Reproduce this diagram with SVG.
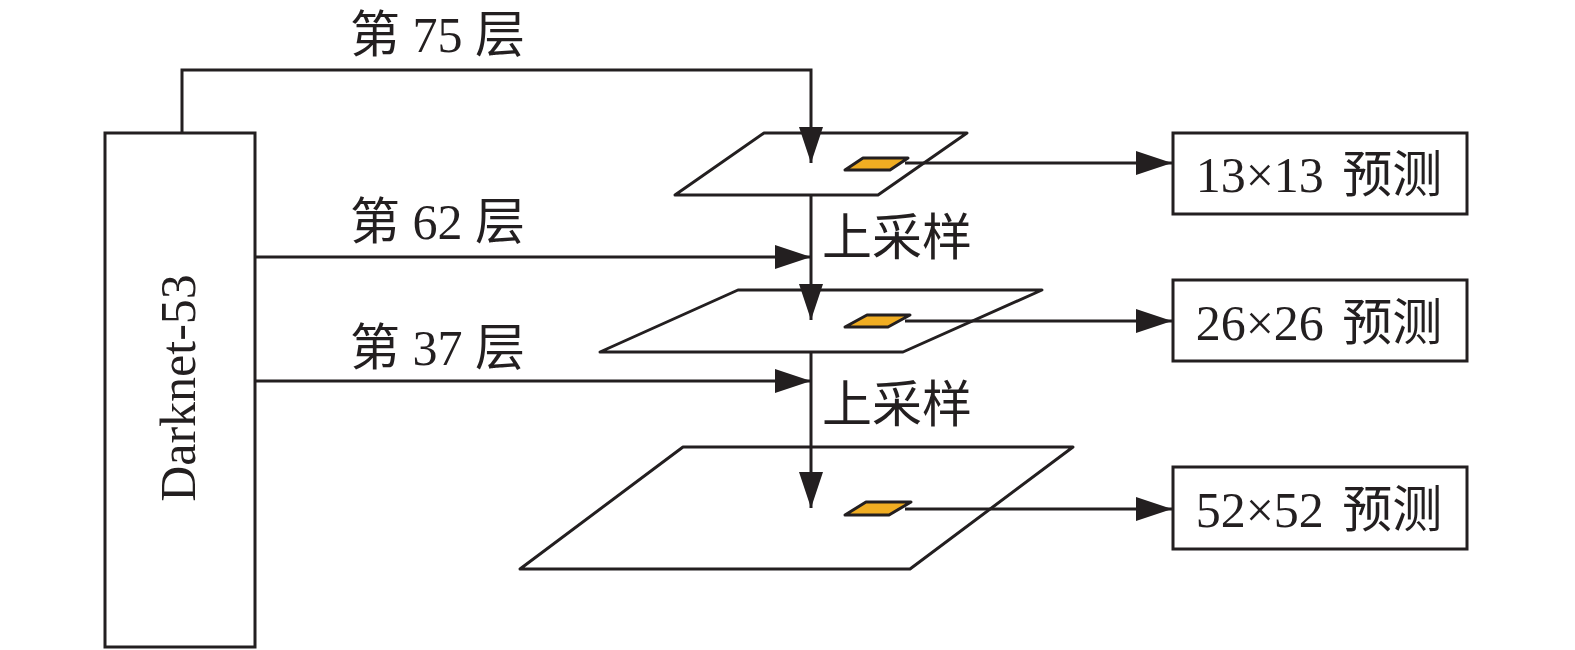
<svg xmlns="http://www.w3.org/2000/svg" width="1575" height="650" viewBox="0 0 1575 650">
<style>
.ln{fill:none;stroke:#231f20;stroke-width:3}
.pl{fill:#fff;stroke:#231f20;stroke-width:3;stroke-linejoin:round}
.or{fill:#f0ad22;stroke:#231f20;stroke-width:3;stroke-linejoin:round}
.bx{fill:#fff;stroke:#231f20;stroke-width:3}
text{font-family:"Liberation Serif","Noto Sans CJK SC",serif;font-size:50px;fill:#231f20}
.bt{word-spacing:6px}
</style>
<defs>
<marker id="ah" markerUnits="userSpaceOnUse" markerWidth="38" markerHeight="26" refX="36" refY="12" orient="auto">
<path d="M0,0 L36,12 L0,24 z" fill="#231f20"/>
</marker>
</defs>
<g id="darknet">
<rect class="bx" x="105" y="133" width="150" height="514"/>
<text transform="translate(195,388) rotate(-90)" text-anchor="middle" font-size="54">Darknet-53</text>
</g>
<g id="plane13">
<polygon class="pl" points="764,133 967,133 878,195 675,195"/>
<polygon class="or" points="863,158 908,158 890,170 845,170"/>
</g>
<g id="plane26">
<polygon class="pl" points="738,290 1042,290 903,352 600,352"/>
<polygon class="or" points="867,315 910,315 888,327 845,327"/>
</g>
<g id="plane52">
<polygon class="pl" points="683,447 1073,447 910,569 520,569"/>
<polygon class="or" points="866,502 911,502 889,515 845,515"/>
</g>
<g id="out13">
<rect class="bx" x="1173" y="133" width="294" height="81"/>
<text class="bt" x="1319" y="192" text-anchor="middle">13×13 预测</text>
</g>
<g id="out26">
<rect class="bx" x="1173" y="280" width="294" height="81"/>
<text class="bt" x="1319" y="340" text-anchor="middle">26×26 预测</text>
</g>
<g id="out52">
<rect class="bx" x="1173" y="467" width="294" height="82"/>
<text class="bt" x="1319" y="527" text-anchor="middle">52×52 预测</text>
</g>
<g id="connectors">
<path class="ln" d="M182,133 V70 H811 V163" marker-end="url(#ah)"/>
<path class="ln" d="M811,195 V320" marker-end="url(#ah)"/>
<path class="ln" d="M811,352 V508" marker-end="url(#ah)"/>
<path class="ln" d="M255,257 H811" marker-end="url(#ah)"/>
<path class="ln" d="M255,381 H811" marker-end="url(#ah)"/>
<path class="ln" d="M905,163 H1172" marker-end="url(#ah)"/>
<path class="ln" d="M905,321 H1172" marker-end="url(#ah)"/>
<path class="ln" d="M905,509 H1172" marker-end="url(#ah)"/>
</g>
<g id="labels">
<text x="350" y="52">第 75 层</text>
<text x="350" y="239">第 62 层</text>
<text x="350" y="365">第 37 层</text>
<text x="822" y="255" font-size="52">上采样</text>
<text x="822" y="422" font-size="52">上采样</text>
</g>
</svg>
